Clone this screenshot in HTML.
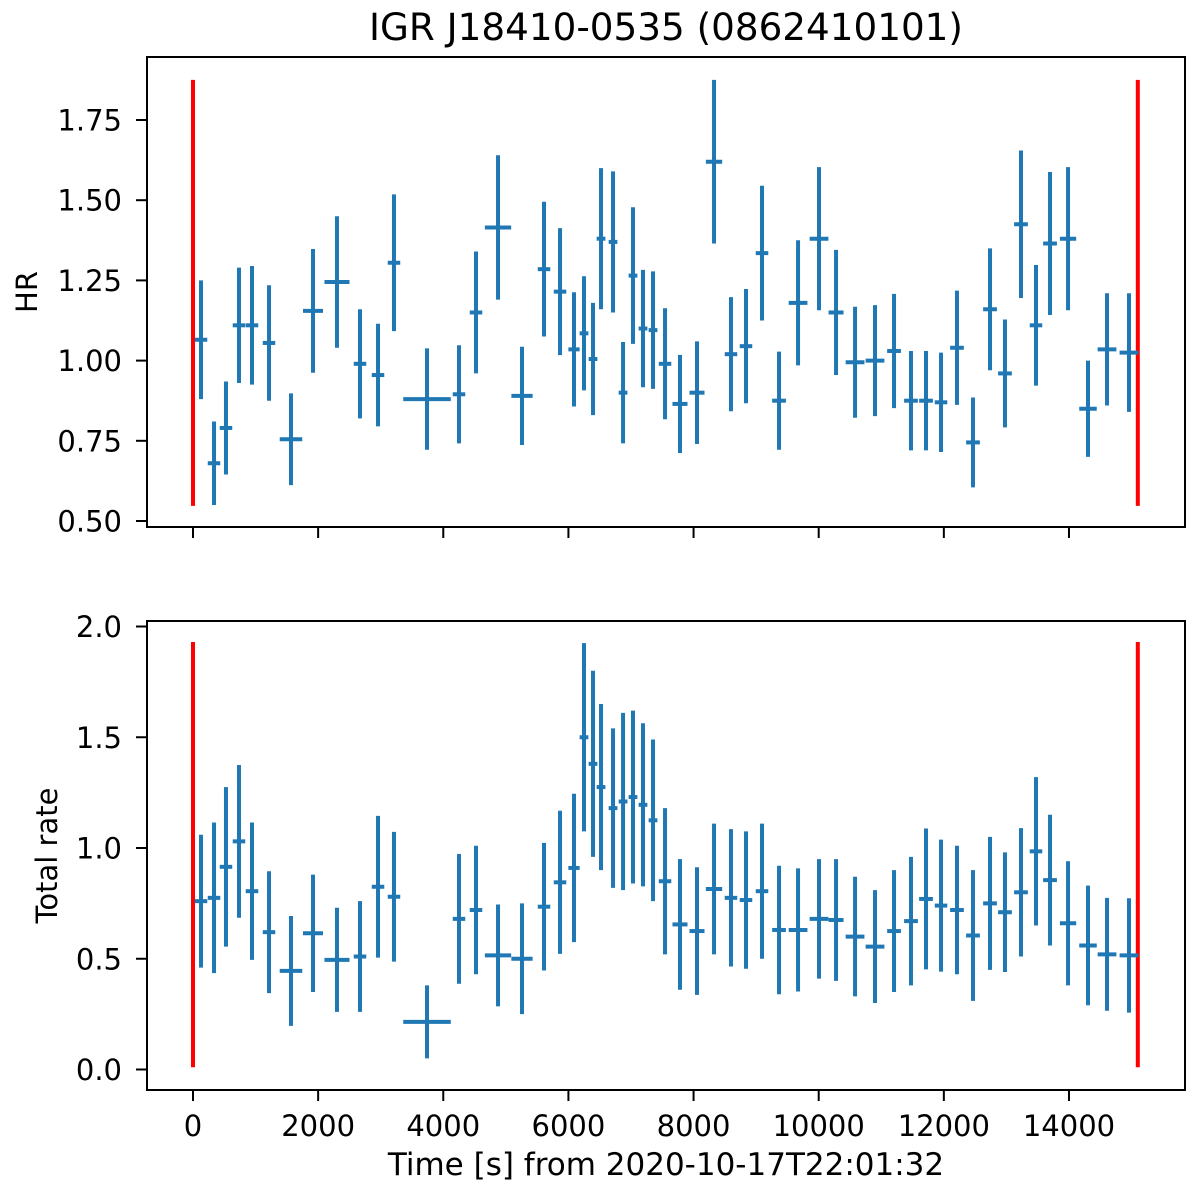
<!DOCTYPE html>
<html><head><meta charset="utf-8"><style>
body{margin:0;background:#fff}
svg text{font-family:"DejaVu Sans","Liberation Sans",sans-serif;fill:#000}
</style></head><body>
<svg id="c" width="1200" height="1183" xmlns="http://www.w3.org/2000/svg"></svg>
<script>
const times=[128,336,527,735,943,1215,1566,1918,2301,2669,2957,3212,3740,4251,4523,4875,5258,5610,5866,6089,6249,6393,6521,6713,6873,7032,7192,7352,7544,7783,8055,8327,8598,8838,9094,9366,9670,10005,10277,10581,10900,11204,11475,11715,11955,12210,12466,12738,12977,13233,13473,13697,13985,14304,14608,14959];
const halfW=[100,100,100,100,100,100,180,160,200,100,100,100,380,100,100,210,170,100,100,90,70,70,70,70,70,70,70,70,100,120,120,130,100,100,100,110,150,150,120,150,150,110,110,110,100,110,110,110,110,110,100,110,130,140,150,150];
const hr=[1.065,0.68,0.79,1.11,1.11,1.055,0.755,1.155,1.245,0.99,0.955,1.305,0.88,0.895,1.15,1.415,0.89,1.285,1.215,1.035,1.085,1.005,1.38,1.37,0.9,1.265,1.1,1.095,0.99,0.865,0.9,1.62,1.02,1.045,1.335,0.875,1.18,1.38,1.15,0.995,1.0,1.03,0.875,0.875,0.87,1.04,0.745,1.16,0.96,1.425,1.11,1.365,1.38,0.85,1.035,1.025];
const hrErr=[0.185,0.13,0.145,0.18,0.185,0.18,0.143,0.193,0.205,0.17,0.16,0.213,0.158,0.153,0.19,0.225,0.153,0.21,0.198,0.178,0.178,0.175,0.22,0.22,0.158,0.213,0.183,0.183,0.173,0.153,0.16,0.255,0.178,0.178,0.21,0.153,0.195,0.223,0.195,0.173,0.173,0.178,0.155,0.155,0.155,0.178,0.14,0.19,0.168,0.23,0.188,0.223,0.223,0.15,0.175,0.185];
const rate=[0.76,0.775,0.915,1.03,0.805,0.62,0.445,0.615,0.495,0.51,0.825,0.78,0.215,0.68,0.72,0.515,0.5,0.735,0.845,0.91,1.5,1.38,1.275,1.18,1.21,1.23,1.195,1.125,0.85,0.655,0.625,0.815,0.775,0.765,0.805,0.63,0.63,0.68,0.675,0.6,0.555,0.625,0.67,0.77,0.74,0.72,0.605,0.75,0.71,0.8,0.985,0.855,0.66,0.56,0.52,0.515];
const rateErr=[0.3,0.34,0.36,0.345,0.31,0.275,0.248,0.265,0.235,0.25,0.32,0.293,0.165,0.293,0.29,0.23,0.25,0.288,0.323,0.335,0.425,0.42,0.375,0.36,0.4,0.39,0.368,0.365,0.33,0.295,0.288,0.295,0.31,0.31,0.305,0.29,0.278,0.27,0.275,0.27,0.255,0.275,0.29,0.318,0.298,0.29,0.295,0.3,0.27,0.29,0.335,0.295,0.28,0.27,0.255,0.258];
const xTicks=[0,2000,4000,6000,8000,10000,12000,14000];
const hrTicks=[0.5,0.75,1.0,1.25,1.5,1.75];
const rateTicks=[0.0,0.5,1.0,1.5,2.0];
const gti=[0,15100];
const hrRed=[0.547,1.875];
const rateRed=[0.01,1.93];

const L=147,R=1185;
const xs=t=>193+t*0.06257;
const yHR=v=>521-(v-0.5)*320.8;
const yRT=v=>1069.5-v*221.5;
const svg=document.getElementById('c');
const NS='http://www.w3.org/2000/svg';
function mk(tag,a,par){const e=document.createElementNS(NS,tag);for(const k in a)e.setAttribute(k,a[k]);(par||svg).appendChild(e);return e;}
function panel(name,top,bot,ys,vals,errs,ticks,fmt,red,label,lx,showX){
  const g=mk('g',{});
  
  
  gti.forEach(t=>{const l=mk('line',{x1:xs(t),x2:xs(t),y1:ys(red[0]),y2:ys(red[1]),stroke:'#ff0000','stroke-width':4},g);
    
    });
  times.forEach((t,i)=>{const s=mk('g',{},g);
    
    
    mk('line',{x1:xs(t),x2:xs(t),y1:ys(vals[i]-errs[i]),y2:ys(vals[i]+errs[i]),stroke:'#1f77b4','stroke-width':4},s);
    mk('line',{x1:xs(t-halfW[i]),x2:xs(t+halfW[i]),y1:ys(vals[i]),y2:ys(vals[i]),stroke:'#1f77b4','stroke-width':4},s);});
  const f=mk('rect',{x:L,y:top,width:R-L,height:bot-top,fill:'none',stroke:'#000','stroke-width':2},g);
  
  
  ticks.forEach(v=>{mk('line',{x1:L-11,x2:L,y1:ys(v),y2:ys(v),stroke:'#000','stroke-width':2},g);
    const tx=mk('text',{x:122,y:ys(v)+10.5,'text-anchor':'end','font-size':29},g);tx.textContent=fmt(v);
    
    });
  xTicks.forEach(t=>{mk('line',{x1:xs(t),x2:xs(t),y1:bot,y2:bot+11,stroke:'#000','stroke-width':2},g);
    if(showX){const tx=mk('text',{x:xs(t),y:bot+46,'text-anchor':'middle','font-size':29},g);tx.textContent=t;
      
      }});
  const yl=mk('text',{x:0,y:0,'text-anchor':'middle','font-size':29,transform:`translate(${lx},${(top+bot)/2}) rotate(-90)`},g);
  yl.textContent=label;
  
  
}
panel('hr',57,527,yHR,hr,hrErr,hrTicks,v=>v.toFixed(2),hrRed,'HR',37,false);
panel('rate',621,1090,yRT,rate,rateErr,rateTicks,v=>v.toFixed(1),rateRed,'Total rate',57,true);
const ti=mk('text',{x:666,y:40,'text-anchor':'middle','font-size':37.3});ti.textContent='IGR J18410-0535 (0862410101)';


const xl=mk('text',{x:666,y:1175,'text-anchor':'middle','font-size':31});xl.textContent='Time [s] from 2020-10-17T22:01:32';


</script>
</body></html>
